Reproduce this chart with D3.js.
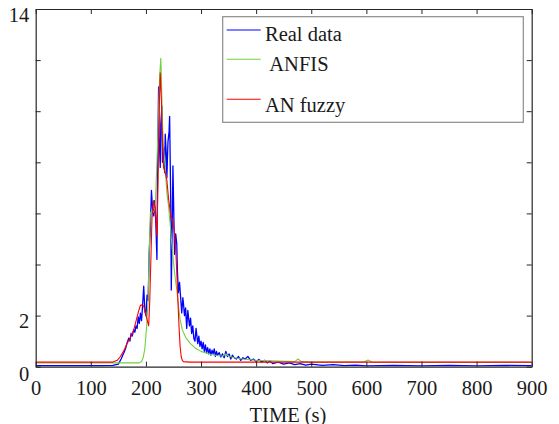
<!DOCTYPE html>
<html>
<head>
<meta charset="utf-8">
<script src="https://cdn.jsdelivr.net/npm/d3@7"></script>
<style>
  html, body { margin: 0; padding: 0; background: #ffffff; }
  svg { display: block; }
  svg text { font-family: "Liberation Serif", "Tinos", "Times New Roman", serif; font-size: 20.5px; }
</style>
</head>
<body>
<svg id="chart" width="559" height="424"></svg>
<script>
// ---------------- DATA ----------------
const xTicks = [0, 100, 200, 300, 400, 500, 600, 700, 800, 900];
const yTicks = [0, 2, 4, 6, 8, 10, 12, 14];
const yTickLabels = { 0: "0", 2: "2", 14: "14" };
const seriesNames = ["Real data", "ANFIS", "AN fuzzy"];

// Real data (blue)
const realT = [0, 60, 120, 140, 150, 155, 160, 163, 166, 169, 171, 173, 175, 178, 180, 182, 184, 186, 188, 190, 192, 194, 196, 198, 200, 202, 204, 206, 208, 210, 212, 214, 216, 218, 220, 221, 223, 224, 226, 227, 229, 230, 232, 234, 235, 237, 238, 240, 242, 243, 245, 246, 248, 249, 251, 252, 254, 256, 257, 259, 261, 262, 264, 265, 267, 268, 270, 272, 274, 276, 277, 279, 281, 283, 285, 287, 289, 291, 292, 294, 296, 298, 300, 302, 304, 306, 308, 310, 312, 314, 316, 318, 320, 322, 324, 326, 328, 330, 333, 336, 339, 342, 345, 348, 351, 354, 357, 360, 364, 368, 372, 376, 380, 385, 390, 395, 400, 405, 410, 415, 420, 425, 430, 440, 450, 460, 470, 480, 490, 500, 520, 540, 560, 580, 600, 650, 700, 750, 800, 850, 900];
const realV = [0.04, 0.04, 0.04, 0.05, 0.1, 0.3, 0.55, 0.7, 0.95, 1.12, 1.0, 1.3, 1.2, 1.45, 1.35, 1.6, 1.5, 1.95, 1.7, 2.1, 1.8, 2.4, 3.15, 2.2, 2.0, 2.8, 2.6, 4.5, 5.4, 6.9, 6.2, 5.9, 6.5, 5.6, 4.2, 7.5, 10.95, 9.0, 7.8, 9.5, 10.2, 8.0, 8.6, 7.6, 9.1, 8.3, 7.4, 8.8, 9.2, 9.8, 6.5, 3.0, 6.0, 7.86, 5.5, 4.4, 5.2, 4.8, 3.8, 2.9, 3.3, 3.0, 2.4, 2.1, 2.7, 2.5, 2.0, 2.3, 1.5, 2.2, 2.0, 1.6, 1.9, 1.3, 1.6, 1.1, 1.0, 1.5, 1.3, 0.9, 1.2, 0.8, 1.0, 0.7, 0.95, 0.6, 0.85, 0.55, 0.75, 0.5, 0.7, 0.45, 0.65, 0.5, 0.7, 0.4, 0.6, 0.45, 0.55, 0.38, 0.5, 0.35, 0.6, 0.4, 0.5, 0.3, 0.45, 0.35, 0.3, 0.4, 0.25, 0.35, 0.3, 0.4, 0.25, 0.3, 0.2, 0.28, 0.18, 0.25, 0.15, 0.22, 0.12, 0.18, 0.1, 0.15, 0.08, 0.12, 0.06, 0.1, 0.05, 0.08, 0.04, 0.06, 0.03, 0.05, 0.03, 0.05, 0.03, 0.05, 0.04];

// ANFIS (green)
const anfisT = [0, 188, 192, 195, 198, 201, 204, 206, 208, 211, 214, 217, 220, 223, 225, 227, 228, 230, 232, 235, 238, 241, 244, 247, 250, 253, 256, 259, 262, 266, 272, 280, 290, 300, 315, 330, 340, 345, 350, 360, 375, 400, 440, 470, 476, 482, 500, 550, 595, 603, 610, 650, 900];
const anfisV = [0.15, 0.15, 0.2, 0.35, 0.7, 1.5, 2.6, 4.5, 6.0, 6.1, 6.05, 6.3, 8.0, 10.0, 11.4, 12.07, 11.4, 9.5, 8.6, 7.8, 6.8, 6.3, 5.6, 4.8, 4.1, 3.5, 3.0, 2.4, 1.85, 1.45, 1.15, 0.92, 0.72, 0.6, 0.5, 0.43, 0.42, 0.5, 0.42, 0.35, 0.3, 0.25, 0.22, 0.2, 0.3, 0.2, 0.18, 0.18, 0.18, 0.26, 0.18, 0.17, 0.17];

// AN fuzzy (red)
const fuzzyT = [0, 140, 148, 153, 158, 162, 166, 171, 175, 178, 181, 184, 187, 190, 193, 196, 199, 202, 205, 207, 209, 211, 214, 217, 220, 222, 224, 226, 228, 230, 232, 235, 238, 241, 245, 249, 252, 254, 256, 258, 260, 262, 264, 266, 268, 280, 400, 600, 900];
const fuzzyV = [0.18, 0.18, 0.25, 0.38, 0.55, 0.72, 0.92, 1.1, 1.3, 1.45, 1.7, 1.95, 2.2, 2.4, 2.42, 2.38, 2.1, 1.85, 1.6, 2.6, 4.2, 5.8, 6.5, 6.2, 5.1, 7.2, 10.0, 11.5, 10.5, 8.8, 7.8, 7.6, 7.3, 6.6, 5.9, 5.7, 5.2, 4.6, 3.7, 2.6, 1.6, 0.8, 0.4, 0.25, 0.2, 0.18, 0.18, 0.18, 0.18];

// ---------------- CHART ----------------
const svg = d3.select("#chart");
const margin = { left: 35.7, right: 531.7, top: 9, bottom: 366.7 };

const x = d3.scaleLinear().domain([0, 900]).range([margin.left, margin.right]);
const y = d3.scaleLinear().domain([0, 14]).range([margin.bottom, margin.top]);

const series = [
  { name: seriesNames[0], t: realT, v: realV, color: "#0000ff", width: 1.3 },
  { name: seriesNames[1], t: anfisT, v: anfisV, color: "#6fd13f", width: 1.1 },
  { name: seriesNames[2], t: fuzzyT, v: fuzzyV, color: "#ff0000", width: 1.1 }
];

const line = d3.line().x(d => x(d[0])).y(d => y(d[1]));

svg.append("clipPath").attr("id", "clip")
  .append("rect")
  .attr("x", margin.left).attr("y", margin.top)
  .attr("width", margin.right - margin.left)
  .attr("height", margin.bottom - margin.top);

const plot = svg.append("g").attr("clip-path", "url(#clip)");
series.forEach(s => {
  const pts = s.t.map((t, i) => [t, s.v[i]]);
  plot.append("path")
    .datum(pts)
    .attr("fill", "none")
    .attr("stroke", s.color)
    .attr("stroke-width", s.width)
    .attr("stroke-linejoin", "round")
    .attr("d", line);
});

// Axes (ticks inward on all four sides)
const tickColor = "#262626";
const gBottom = svg.append("g").attr("transform", `translate(0,${margin.bottom})`)
  .call(d3.axisBottom(x).tickValues(xTicks).tickSizeInner(-5).tickSizeOuter(0).tickPadding(0));
const gTop = svg.append("g").attr("transform", `translate(0,${margin.top})`)
  .call(d3.axisTop(x).tickValues(xTicks).tickSizeInner(-5).tickSizeOuter(0).tickFormat(""));
const gLeft = svg.append("g").attr("transform", `translate(${margin.left},0)`)
  .call(d3.axisLeft(y).tickValues(yTicks).tickSizeInner(-5).tickSizeOuter(0)
    .tickFormat(d => yTickLabels[d] !== undefined ? yTickLabels[d] : ""));
const gRight = svg.append("g").attr("transform", `translate(${margin.right},0)`)
  .call(d3.axisRight(y).tickValues(yTicks).tickSizeInner(-5).tickSizeOuter(0).tickFormat(""));

[gBottom, gTop, gLeft, gRight].forEach(g => {
  g.attr("font-family", null).attr("font-size", null);
  g.select(".domain").attr("stroke", tickColor).attr("stroke-width", 1.2);
  g.selectAll(".tick line").attr("stroke", tickColor).attr("stroke-width", 1);
  g.selectAll("text").attr("fill", "#1a1a1a");
});
gBottom.selectAll("text").attr("y", 28.5).attr("dy", 0);
gLeft.selectAll("text").attr("x", -6.5).attr("dy", 0).attr("y", d => d === 0 ? 13.3 : 12);

// X axis title
svg.append("text")
  .attr("x", 288).attr("y", 421.5)
  .attr("text-anchor", "middle")
  .attr("fill", "#1a1a1a")
  .text("TIME (s)");

// Legend
const legend = svg.append("g");
legend.append("rect")
  .attr("x", 222.7).attr("y", 16.7).attr("width", 300.6).attr("height", 105.6)
  .attr("fill", "#ffffff").attr("stroke", "#8c8c8c").attr("stroke-width", 1.2);

const legendRows = [
  { lineY: 30, textY: 40.7, textX: 265, label: seriesNames[0] },
  { lineY: 59.3, textY: 71, textX: 269.3, label: seriesNames[1] },
  { lineY: 99.3, textY: 112, textX: 265, label: seriesNames[2] }
];
legendRows.forEach((r, i) => {
  legend.append("line")
    .attr("x1", 226.7).attr("x2", 260.7)
    .attr("y1", r.lineY).attr("y2", r.lineY)
    .attr("stroke", series[i].color).attr("stroke-width", 1.1);
  legend.append("text")
    .attr("x", r.textX).attr("y", r.textY)
    .attr("fill", "#1a1a1a")
    .text(r.label);
});
</script>
</body>
</html>
